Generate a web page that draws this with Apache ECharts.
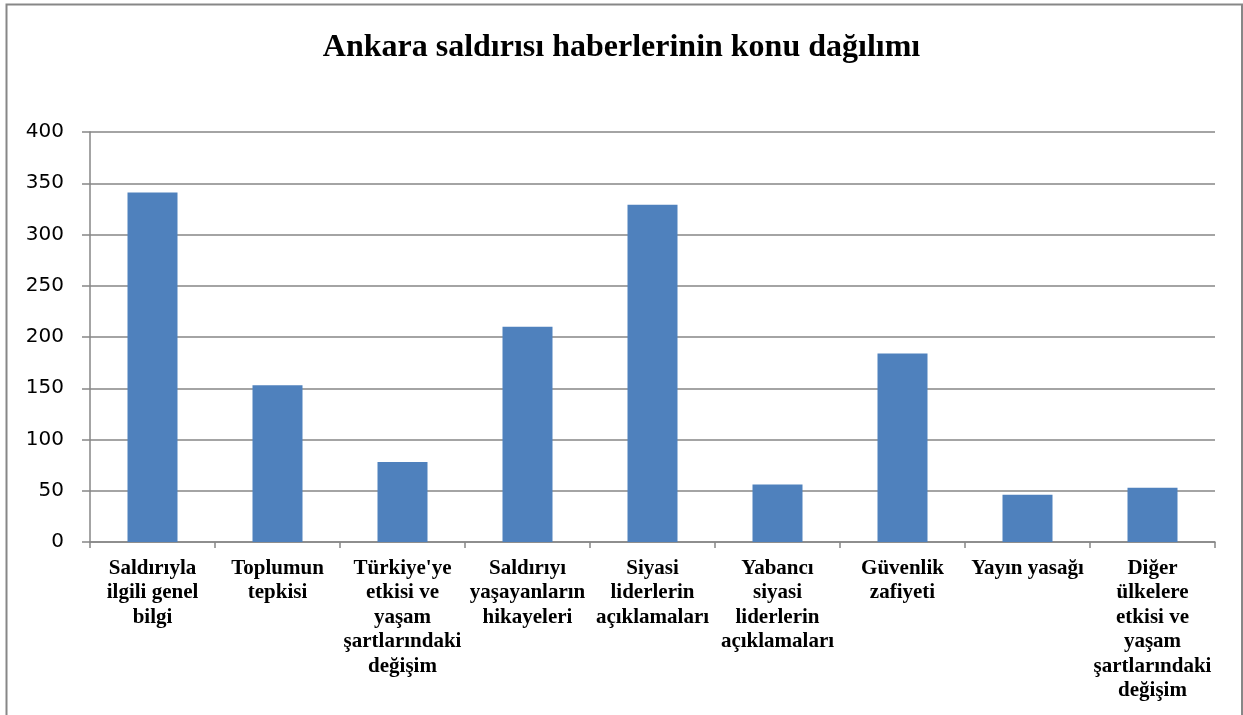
<!DOCTYPE html>
<html>
<head>
<meta charset="utf-8">
<title>Ankara saldırısı haberlerinin konu dağılımı</title>
<script src="https://cdn.jsdelivr.net/npm/echarts@6/dist/echarts.min.js"></script>
<style>
  html, body { margin: 0; padding: 0; background: #fff; }
  #chart { width: 1243px; height: 715px; }
</style>
</head>
<body>
<div id="chart"></div>
<script>
const titleText = 'Ankara saldırısı haberlerinin konu dağılımı';

const categories = [
  'Saldırıyla\nilgili genel\nbilgi',
  'Toplumun\ntepkisi',
  "Türkiye'ye\netkisi ve\nyaşam\nşartlarındaki\ndeğişim",
  'Saldırıyı\nyaşayanların\nhikayeleri',
  'Siyasi\nliderlerin\naçıklamaları',
  'Yabancı\nsiyasi\nliderlerin\naçıklamaları',
  'Güvenlik\nzafiyeti',
  'Yayın yasağı',
  'Diğer\nülkelere\netkisi ve\nyaşam\nşartlarındaki\ndeğişim'
];

const counts = [341, 153, 78, 210, 329, 56, 184, 46, 53];

const chart = echarts.init(document.getElementById('chart'));

const option = {
  animation: false,
  title: {
    text: titleText,
    left: 'center',
    top: 27,
    textStyle: {
      fontFamily: 'Liberation Serif',
      fontWeight: 'bold',
      fontSize: 32,
      color: '#000'
    }
  },
  graphic: [
    {
      type: 'rect',
      shape: { x: 6.5, y: 4.5, width: 1235.5, height: 720 },
      style: { fill: 'none', stroke: '#878787', lineWidth: 2 },
      silent: true
    }
  ],
  grid: {
    left: 90,
    right: 28,
    top: 132,
    bottom: 173,
    containLabel: false
  },
  xAxis: {
    type: 'category',
    data: categories,
    axisLine: { lineStyle: { color: '#868686', width: 1.5 } },
    axisTick: { show: true, length: 6, lineStyle: { color: '#868686', width: 1.5 } },
    axisLabel: {
      interval: 0,
      margin: 14,
      color: '#000',
      fontFamily: 'Liberation Serif',
      fontWeight: 'bold',
      fontSize: 21,
      lineHeight: 24.5,
      align: 'center',
      verticalAlign: 'top'
    }
  },
  yAxis: {
    type: 'value',
    min: 0,
    max: 400,
    interval: 50,
    axisLine: { show: true, lineStyle: { color: '#868686', width: 1.5 } },
    axisTick: { show: true, length: 8, lineStyle: { color: '#868686', width: 1.5 } },
    axisLabel: {
      color: '#000',
      fontFamily: 'DejaVu Sans',
      fontSize: 20,
      margin: 26
    },
    splitLine: { lineStyle: { color: '#868686', width: 1.5 } }
  },
  series: [
    {
      type: 'bar',
      data: counts,
      barWidth: '40%',
      itemStyle: { color: '#4f81bd' }
    }
  ]
};

chart.setOption(option);
</script>
</body>
</html>
